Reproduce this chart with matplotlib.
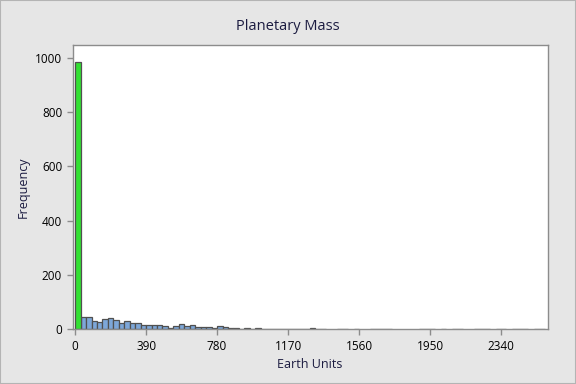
import numpy as np
import matplotlib
matplotlib.use("Agg")
import matplotlib.pyplot as plt
from matplotlib.patches import Rectangle

plt.rcParams["font.family"] = ["Open Sans", "DejaVu Sans"]

# Histogram data (bin width 30 Earth units, first bin highlighted)
bin_width = 30
counts = [
    985,
    44, 44, 30, 26, 37, 41, 33, 22, 29, 22, 22, 17, 17, 17, 17,
    13, 6, 11, 21, 13, 17, 10, 10, 10, 6, 13, 8,
    5, 5, 2, 6, 2, 6, 2, 2, 2, 1, 2, 1, 1, 2, 1,
    4, 1, 1, 0, 0, 1, 1, 0, 1, 0, 0, 1, 1, 1, 2,
    0, 0, 0, 0, 0, 1, 1, 1, 0, 1, 0, 1, 1, 0, 0,
    1, 1, 1, 0, 1, 1, 0, 1, 1, 1, 0, 1, 1,
]
x_ticks = [0, 390, 780, 1170, 1560, 1950, 2340]
y_ticks = [0, 200, 400, 600, 800, 1000]

counts = np.array(counts)
lefts = np.arange(len(counts)) * bin_width

text_col = "#1b1b40"
frame_col = "#8c8c8c"

fig = plt.figure(figsize=(5.76, 3.84), dpi=100, facecolor="#e6e6e6")
fig.patches.append(Rectangle((0, 0), 1, 1, transform=fig.transFigure,
                             fill=False, edgecolor="#b4b4b4", linewidth=1.5))
ax = fig.add_axes([0.126, 0.1424, 0.825, 0.7406])

blue = (counts > 0) & (np.arange(len(counts)) > 0)
ax.bar(lefts[blue], counts[blue], width=bin_width, align="edge",
       color="#7da7d9", edgecolor="#505050", linewidth=0.9)
ax.bar(lefts[:1], counts[:1], width=bin_width, align="edge",
       color="#33e033", edgecolor="#505050", linewidth=0.9)

ax.set_xlim(-14, 2597)
ax.set_ylim(0, 1047)
ax.set_xticks(x_ticks)
ax.set_yticks(y_ticks)
for s in ax.spines.values():
    s.set_color(frame_col)
    s.set_linewidth(1.0)
ax.tick_params(colors=frame_col, length=4, width=1, labelsize=8.5,
               labelcolor="black")

fig.text(0.5, 1 - 27 / 384, "Planetary Mass", fontsize=10.5, color=text_col,
         ha="center", va="center")
ax.set_xlabel("Earth Units", fontsize=9, color=text_col, labelpad=4)
ax.set_ylabel("Frequency", fontsize=9, color=text_col, labelpad=4)

fig.savefig("out.png", dpi=100, facecolor=fig.get_facecolor())
